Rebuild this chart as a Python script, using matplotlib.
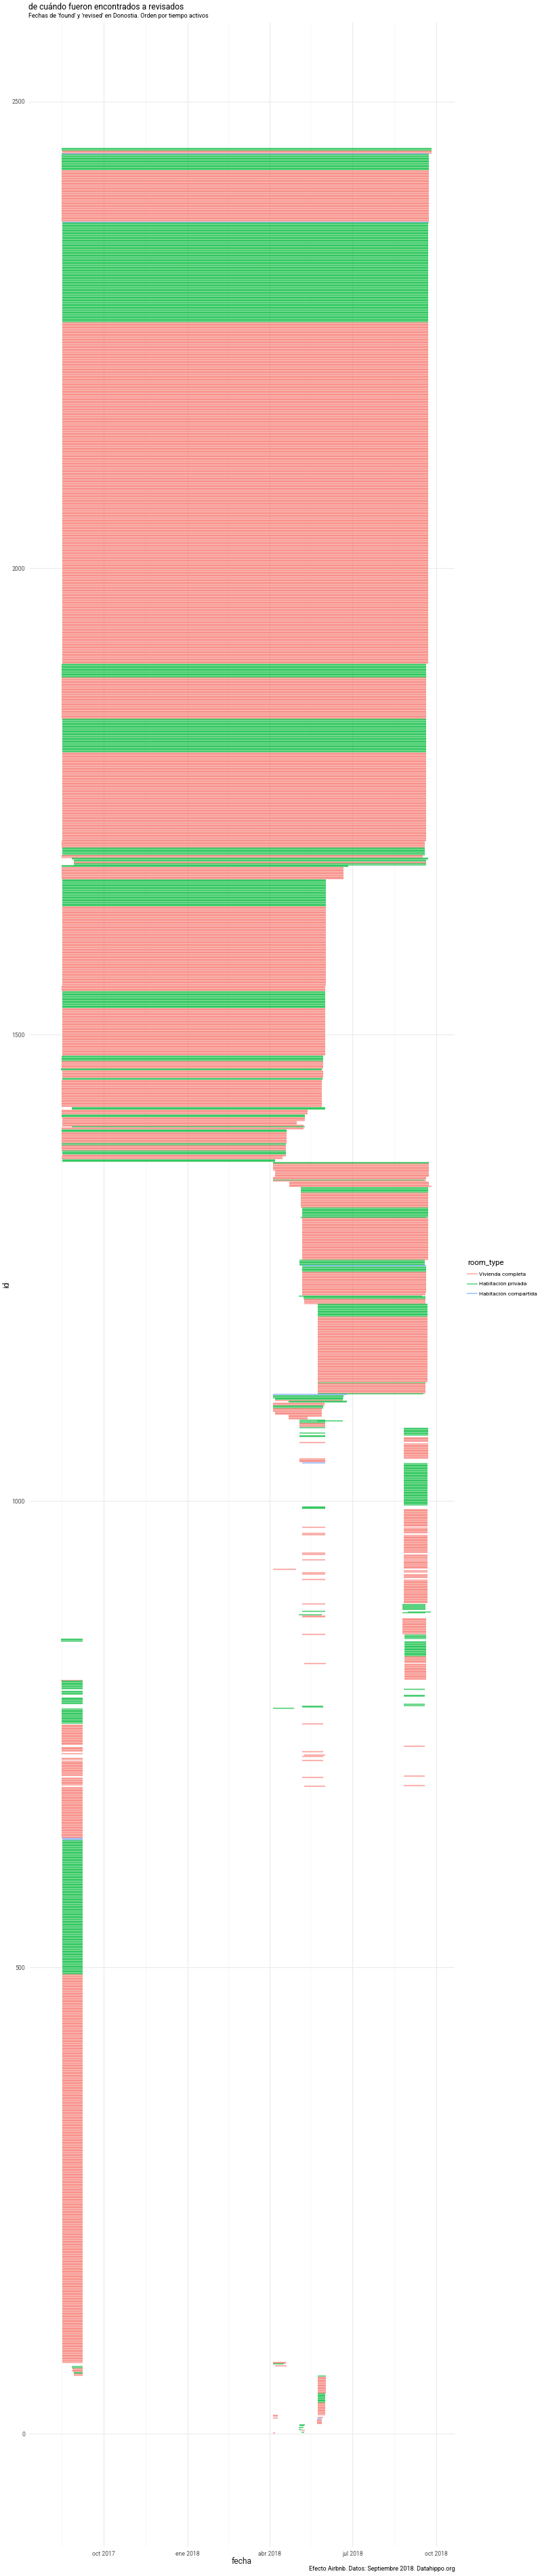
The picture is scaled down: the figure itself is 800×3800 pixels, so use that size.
import numpy as np
import pandas as pd
import matplotlib
matplotlib.use('Agg')
import matplotlib.pyplot as plt
import matplotlib.dates as mdates
from matplotlib.collections import LineCollection
from matplotlib.lines import Line2D

# tramos de anuncios: (id desde, id hasta, found, revised, tipo)
# V = Vivienda completa, P = Habitación privada, C = Habitación compartida
desde_ago_2017 = [
    (2448, 2450, '2017-08-16', '2018-09-26', 'P'),
    (2445, 2447, '2017-08-17', '2018-09-26', 'V'),
    (2444, 2444, '2017-08-16', '2018-09-23', 'C'),
    (2427, 2443, '2017-08-16', '2018-09-23', 'P'),
    (2372, 2426, '2017-08-16', '2018-09-23', 'V'),
    (2371, 2371, '2017-08-17', '2018-09-23', 'C'),
    (2264, 2370, '2017-08-17', '2018-09-22', 'P'),
    (1898, 2263, '2017-08-17', '2018-09-22', 'V'),
    (1883, 1897, '2017-08-16', '2018-09-20', 'P'),
    (1839, 1882, '2017-08-16', '2018-09-20', 'V'),
    (1803, 1838, '2017-08-17', '2018-09-20', 'P'),
    (1708, 1802, '2017-08-17', '2018-09-20', 'V'),
    (1701, 1707, '2017-08-16', '2018-09-18', 'V'),
    (1693, 1700, '2017-08-17', '2018-09-18', 'P'),
    (1690, 1692, '2017-08-16', '2018-09-16', 'V'),
    (1688, 1689, '2017-08-27', '2018-09-22', 'P'),
    (1686, 1687, '2017-08-29', '2018-09-20', 'P'),
    (1684, 1685, '2017-08-29', '2018-09-20', 'V'),
    (1682, 1683, '2017-08-29', '2018-09-20', 'P'),
    (1680, 1681, '2017-08-16', '2018-06-26', 'P'),
    (1667, 1679, '2017-08-16', '2018-06-21', 'V'),
    (1638, 1666, '2017-08-17', '2018-06-02', 'P'),
    (1553, 1637, '2017-08-17', '2018-06-02', 'V'),
    (1547, 1552, '2017-08-16', '2018-06-01', 'V'),
    (1529, 1546, '2017-08-17', '2018-06-01', 'P'),
    (1478, 1528, '2017-08-17', '2018-06-01', 'V'),
    (1472, 1477, '2017-08-16', '2018-05-30', 'P'),
    (1464, 1471, '2017-08-16', '2018-05-30', 'V'),
    (1462, 1463, '2017-08-15', '2018-05-28', 'P'),
    (1454, 1461, '2017-08-17', '2018-05-30', 'V'),
    (1452, 1453, '2017-08-17', '2018-05-29', 'P'),
    (1423, 1451, '2017-08-16', '2018-05-28', 'V'),
    (1420, 1422, '2017-08-27', '2018-06-01', 'P'),
    (1415, 1419, '2017-08-16', '2018-05-13', 'V'),
    (1412, 1414, '2017-08-16', '2018-05-10', 'P'),
    (1408, 1411, '2017-08-17', '2018-05-10', 'V'),
    (1404, 1407, '2017-08-17', '2018-05-01', 'V'),
    (1402, 1403, '2017-08-17', '2018-05-08', 'V'),
    (1401, 1401, '2017-08-27', '2018-05-10', 'P'),
    (1399, 1400, '2017-08-16', '2018-05-08', 'V'),
    (1396, 1398, '2017-08-16', '2018-04-20', 'P'),
    (1384, 1395, '2017-08-16', '2018-04-20', 'V'),
    (1382, 1383, '2017-08-16', '2018-04-19', 'P'),
    (1376, 1381, '2017-08-16', '2018-04-19', 'V'),
    (1372, 1375, '2017-08-17', '2018-04-19', 'P'),
    (1370, 1371, '2017-08-17', '2018-04-19', 'V'),
    (1367, 1369, '2017-08-16', '2018-04-15', 'V'),
    (1364, 1366, '2017-08-17', '2018-04-07', 'P'),
]

desde_abr_2018 = [
    (1362, 1363, '2018-04-05', '2018-09-23', 'P'),
    (1355, 1361, '2018-04-05', '2018-09-23', 'V'),
    (1348, 1354, '2018-04-07', '2018-09-23', 'V'),
    (1345, 1347, '2018-04-05', '2018-09-20', 'V'),
    (1344, 1344, '2018-04-05', '2018-09-18', 'P'),
    (1343, 1343, '2018-04-05', '2018-09-20', 'V'),
    (1338, 1342, '2018-04-23', '2018-09-23', 'V'),
    (1337, 1337, '2018-04-23', '2018-09-26', 'V'),
    (1331, 1336, '2018-05-05', '2018-09-22', 'P'),
    (1315, 1330, '2018-05-05', '2018-09-22', 'V'),
    (1305, 1314, '2018-05-07', '2018-09-22', 'P'),
    (1304, 1304, '2018-05-05', '2018-09-20', 'P'),
    (1259, 1303, '2018-05-07', '2018-09-22', 'V'),
    (1253, 1258, '2018-05-04', '2018-09-18', 'P'),
    (1252, 1252, '2018-05-07', '2018-09-20', 'C'),
    (1246, 1251, '2018-05-07', '2018-09-20', 'P'),
    (1224, 1245, '2018-05-07', '2018-09-20', 'V'),
    (1221, 1223, '2018-05-07', '2018-09-19', 'V'),
    (1220, 1220, '2018-05-03', '2018-09-15', 'P'),
    (1217, 1219, '2018-05-08', '2018-09-19', 'P'),
    (1212, 1216, '2018-05-09', '2018-09-19', 'V'),
    (1198, 1211, '2018-05-24', '2018-09-21', 'P'),
    (1128, 1197, '2018-05-24', '2018-09-21', 'V'),
    (1127, 1127, '2018-05-24', '2018-09-19', 'P'),
    (1116, 1126, '2018-05-24', '2018-09-19', 'V'),
    (1115, 1115, '2018-05-24', '2018-09-17', 'P'),
]

abr_jun_2018 = [
    (1114, 1114, '2018-04-05', '2018-06-25', 'C'),
    (1111, 1113, '2018-04-05', '2018-06-21', 'P'),
    (1109, 1110, '2018-04-07', '2018-06-20', 'P'),
    (1108, 1108, '2018-04-07', '2018-06-20', 'V'),
    (1106, 1107, '2018-04-22', '2018-06-25', 'P'),
    (1103, 1105, '2018-04-05', '2018-05-31', 'V'),
    (1100, 1102, '2018-04-05', '2018-05-30', 'P'),
    (1096, 1099, '2018-04-05', '2018-05-28', 'V'),
    (1093, 1095, '2018-04-07', '2018-05-28', 'V'),
    (1091, 1092, '2018-04-22', '2018-05-28', 'V'),
    (1088, 1090, '2018-04-22', '2018-05-13', 'V'),
    (1087, 1087, '2018-05-04', '2018-06-01', 'P'),
    (1086, 1086, '2018-05-23', '2018-06-20', 'P'),
    (1084, 1085, '2018-05-04', '2018-06-01', 'P'),
    (1080, 1083, '2018-05-04', '2018-06-01', 'V'),
    (1079, 1079, '2018-05-04', '2018-06-01', 'P'),
    (1073, 1073, '2018-05-04', '2018-06-01', 'P'),
    (1069, 1070, '2018-05-04', '2018-06-01', 'P'),
    (1063, 1063, '2018-05-04', '2018-06-01', 'V'),
    (1042, 1045, '2018-05-04', '2018-06-01', 'V'),
    (1041, 1041, '2018-05-07', '2018-06-01', 'C'),
    (992, 994, '2018-05-07', '2018-06-01', 'P'),
    (972, 972, '2018-05-07', '2018-06-01', 'V'),
    (964, 965, '2018-05-07', '2018-06-01', 'V'),
    (943, 944, '2018-05-07', '2018-06-01', 'V'),
    (937, 937, '2018-05-07', '2018-06-01', 'V'),
    (927, 927, '2018-04-05', '2018-04-30', 'V'),
    (922, 923, '2018-05-07', '2018-06-01', 'V'),
    (916, 916, '2018-05-07', '2018-06-01', 'V'),
    (890, 890, '2018-05-07', '2018-06-01', 'V'),
    (882, 882, '2018-05-07', '2018-06-01', 'P'),
    (878, 878, '2018-05-03', '2018-05-28', 'P'),
    (876, 877, '2018-05-07', '2018-06-01', 'V'),
    (857, 857, '2018-05-07', '2018-06-01', 'V'),
    (826, 826, '2018-05-09', '2018-06-02', 'V'),
    (779, 780, '2018-05-07', '2018-05-30', 'P'),
    (778, 778, '2018-04-05', '2018-04-28', 'P'),
    (761, 761, '2018-05-07', '2018-05-30', 'V'),
    (731, 731, '2018-05-07', '2018-05-30', 'V'),
    (728, 728, '2018-05-09', '2018-06-01', 'V'),
    (726, 726, '2018-05-07', '2018-05-30', 'V'),
    (722, 722, '2018-05-07', '2018-05-30', 'V'),
    (704, 704, '2018-05-07', '2018-05-30', 'V'),
    (694, 694, '2018-05-09', '2018-06-01', 'V'),
    (76, 77, '2018-04-05', '2018-04-19', 'V'),
    (75, 75, '2018-04-05', '2018-04-17', 'P'),
    (73, 73, '2018-04-07', '2018-04-20', 'V'),
    (62, 62, '2018-05-24', '2018-06-02', 'P'),
    (44, 61, '2018-05-24', '2018-06-02', 'V'),
    (34, 43, '2018-05-24', '2018-06-01', 'P'),
    (21, 33, '2018-05-24', '2018-06-01', 'V'),
    (19, 20, '2018-04-05', '2018-04-10', 'V'),
    (18, 18, '2018-05-24', '2018-05-30', 'V'),
    (17, 17, '2018-04-05', '2018-04-10', 'V'),
    (16, 16, '2018-05-23', '2018-05-28', 'C'),
    (11, 15, '2018-05-23', '2018-05-28', 'V'),
    (10, 10, '2018-05-04', '2018-05-10', 'P'),
    (9, 9, '2018-05-04', '2018-05-09', 'P'),
    (7, 7, '2018-05-03', '2018-05-08', 'P'),
    (5, 5, '2018-05-03', '2018-05-06', 'P'),
    (4, 4, '2018-05-06', '2018-05-10', 'V'),
    (2, 2, '2018-05-06', '2018-05-09', 'P'),
    (1, 1, '2018-04-05', '2018-04-07', 'V'),
]

desde_ago_2018 = [
    (1071, 1078, '2018-08-26', '2018-09-22', 'P'),
    (1064, 1068, '2018-08-26', '2018-09-22', 'V'),
    (1046, 1061, '2018-08-26', '2018-09-22', 'V'),
    (996, 1040, '2018-08-26', '2018-09-21', 'P'),
    (973, 991, '2018-08-26', '2018-09-21', 'V'),
    (966, 971, '2018-08-26', '2018-09-21', 'V'),
    (945, 963, '2018-08-26', '2018-09-21', 'V'),
    (938, 942, '2018-08-26', '2018-09-21', 'V'),
    (928, 936, '2018-08-26', '2018-09-21', 'V'),
    (924, 925, '2018-08-26', '2018-09-21', 'V'),
    (918, 921, '2018-08-26', '2018-09-21', 'V'),
    (891, 915, '2018-08-26', '2018-09-21', 'V'),
    (884, 889, '2018-08-25', '2018-09-19', 'P'),
    (881, 881, '2018-08-31', '2018-09-25', 'P'),
    (880, 880, '2018-08-25', '2018-09-19', 'P'),
    (858, 874, '2018-08-25', '2018-09-20', 'V'),
    (853, 856, '2018-08-27', '2018-09-20', 'P'),
    (834, 849, '2018-08-27', '2018-09-20', 'P'),
    (827, 833, '2018-08-27', '2018-09-20', 'V'),
    (809, 825, '2018-08-27', '2018-09-20', 'V'),
    (798, 798, '2018-08-26', '2018-09-18', 'P'),
    (791, 792, '2018-08-26', '2018-09-18', 'P'),
    (781, 782, '2018-08-26', '2018-09-18', 'P'),
    (737, 737, '2018-08-26', '2018-09-18', 'V'),
    (705, 705, '2018-08-26', '2018-09-18', 'V'),
    (695, 695, '2018-08-26', '2018-09-18', 'V'),
]

ago_sep_2017 = [
    (850, 852, '2017-08-15', '2017-09-08', 'P'),
    (808, 808, '2017-08-15', '2017-09-08', 'V'),
    (799, 807, '2017-08-16', '2017-09-08', 'P'),
    (793, 796, '2017-08-16', '2017-09-08', 'P'),
    (783, 789, '2017-08-16', '2017-09-08', 'P'),
    (762, 777, '2017-08-16', '2017-09-08', 'P'),
    (739, 760, '2017-08-16', '2017-09-08', 'V'),
    (732, 736, '2017-08-16', '2017-09-08', 'V'),
    (729, 729, '2017-08-16', '2017-09-08', 'V'),
    (723, 724, '2017-08-16', '2017-09-08', 'V'),
    (706, 721, '2017-08-16', '2017-09-08', 'V'),
    (696, 703, '2017-08-16', '2017-09-08', 'V'),
    (639, 693, '2017-08-16', '2017-09-08', 'V'),
    (637, 638, '2017-08-17', '2017-09-08', 'C'),
    (493, 636, '2017-08-17', '2017-09-08', 'P'),
    (77, 492, '2017-08-17', '2017-09-08', 'V'),
    (71, 72, '2017-08-27', '2017-09-08', 'P'),
    (67, 70, '2017-08-28', '2017-09-08', 'V'),
    (65, 66, '2017-08-29', '2017-09-08', 'P'),
    (63, 64, '2017-08-29', '2017-09-08', 'V'),
]

tipos = ['V', 'P', 'C']
etiquetas_tipo = ['Vivienda completa', 'Habitación privada', 'Habitación compartida']
colores_tipo = ['#F8766D', '#00BA38', '#619CFF']

ticks_x = ['2017-10-01', '2018-01-01', '2018-04-01', '2018-07-01', '2018-10-01']
etiquetas_x = ['oct 2017', 'ene 2018', 'abr 2018', 'jul 2018', 'oct 2018']
ticks_x_menores = ['2017-08-16', '2017-11-16', '2018-02-15', '2018-05-16', '2018-08-16']
ticks_y = [0, 500, 1000, 1500, 2000, 2500]

# un segmento por anuncio
tramos = pd.DataFrame(desde_ago_2017 + desde_abr_2018 + abr_jun_2018 + desde_ago_2018 + ago_sep_2017,
                      columns=['id_desde', 'id_hasta', 'found', 'revised', 'room_type'])
tramos['id'] = [list(range(a, b + 1)) for a, b in zip(tramos['id_desde'], tramos['id_hasta'])]
anuncios = tramos.explode('id').reset_index(drop=True)

x0 = mdates.date2num(pd.to_datetime(anuncios['found']).values)
x1 = mdates.date2num(pd.to_datetime(anuncios['revised']).values)
y = anuncios['id'].astype(float).values
segs = np.stack([np.column_stack([x0, y]), np.column_stack([x1, y])], axis=1)
color_de = dict(zip(tipos, colores_tipo))
cols = [color_de[t] for t in anuncios['room_type']]

W, H = 800, 3800
fig = plt.figure(figsize=(W / 100, H / 100), dpi=100)
ax = fig.add_axes([42.7 / W, (H - 3757) / H, (671 - 42.7) / W, (3757 - 33) / H])

lc = LineCollection(segs, colors=cols, linewidths=1.5, alpha=0.55, capstyle='butt', zorder=2)
ax.add_collection(lc)

ax.set_xlim(mdates.datestr2num('2017-07-11'), mdates.datestr2num('2018-10-21'))
ax.set_ylim(-121, 2585)

ax.set_xticks(mdates.datestr2num(ticks_x))
ax.set_xticklabels(etiquetas_x)
ax.set_xticks(mdates.datestr2num(ticks_x_menores), minor=True)
ax.set_yticks(ticks_y)
ax.set_yticklabels([str(v) for v in ticks_y])

ax.grid(which='major', color='#EBEBEB', linewidth=0.8, zorder=0)
ax.grid(which='minor', axis='x', color='#F4F4F4', linewidth=0.5, zorder=0)
ax.set_axisbelow(True)
for s in ax.spines.values():
    s.set_visible(False)
ax.tick_params(which='both', length=0)
ax.tick_params(axis='x', labelsize=6.2, labelcolor='#4D4D4D', pad=4)
ax.tick_params(axis='y', labelsize=6.2, labelcolor='#4D4D4D', pad=4)
for lab in ax.get_xticklabels() + ax.get_yticklabels():
    lab.set_family('Roboto')

narrow = ['Liberation Sans Narrow', 'Roboto']
ax.set_xlabel('fecha', family=narrow, fontsize=8.7, color='#1A1A1A')
ax.xaxis.set_label_coords(0.5, -(3778 - 3757) / (3757 - 33))
ax.xaxis.label.set_va('center')
ax.set_ylabel('id', family=narrow, fontsize=8.7, color='#1A1A1A')
ax.yaxis.set_label_coords(-(42.7 - 10) / (671 - 42.7), 0.5)
ax.yaxis.label.set_va('center')

fig.text(42.3 / W, 1 - 14 / H, 'de cuándo fueron encontrados a revisados',
         family='Roboto', fontsize=8.7, color='#000000', va='baseline', ha='left')
fig.text(42.3 / W, 1 - 26.5 / H, "Fechas de 'found' y 'revised' en Donostia. Orden por tiempo activos",
         family=narrow, fontsize=6.5, color='#000000', va='baseline', ha='left')
fig.text(671 / W, 1 - 3789 / H, 'Efecto Airbnb. Datos: Septiembre 2018. Datahippo.org',
         family=narrow, fontsize=6.5, color='#000000', va='center', ha='right')

handles = [Line2D([], [], color=c, alpha=0.6, linewidth=1.2) for c in colores_tipo]
leg = ax.legend(handles, etiquetas_tipo, title='room_type', loc='upper left',
                bbox_to_anchor=(690 / W, 1 - 1858 / H), bbox_transform=fig.transFigure,
                frameon=False, fontsize=6.0, title_fontsize=8.2, handlelength=1.7,
                handletextpad=0.35, labelspacing=0.95, borderpad=0, borderaxespad=0,
                alignment='left')
for t in leg.get_texts():
    t.set_family('Roboto')
leg.get_title().set_family(narrow)

fig.savefig('out.png', dpi=100)
